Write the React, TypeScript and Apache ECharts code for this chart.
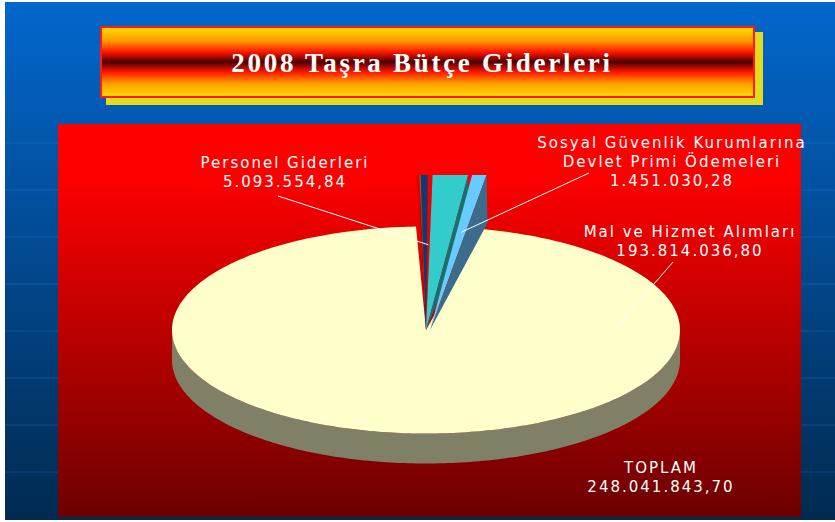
import React, { useEffect, useRef } from "react";
import * as echarts from "echarts";

// ---- data ----
const titleText = "2008 Taşra Bütçe Giderleri";
const categories = [
  "Dilim A",
  "Dilim B",
  "Dilim C",
  "Personel Giderleri",
  "Dilim D",
  "Sosyal Güvenlik Kurumlarına Devlet Primi Ödemeleri",
  "Mal ve Hizmet Alımları",
];
// visual share of each slice (percent of the pie)
const sliceShares = [0.22, 0.08, 0.44, 0.3, 2.24, 0.92, 95.8];
const labelNames = ["Personel Giderleri", "Sosyal Güvenlik Kurumlarına\nDevlet Primi Ödemeleri", "Mal ve Hizmet Alımları"];
const labelValues = ["5.093.554,84", "1.451.030,28", "193.814.036,80"];
const labelSliceIndex = [3, 5, 6];
const totalName = "TOPLAM";
const totalValue = "248.041.843,70";

// ---- styles ----
const sliceColors = ["#e40000", "#8a6a2a", "#0a3a78", "#ee0000", "#33cccc", "#66ccff", "#ffffcc"];
const wallColors = ["#900000", "#5a4520", "#062850", "#900000", "#1f6e6e", "#3d6b8c", "#808066"];
const sliceOffsets = [0, 0, 0, 0, 0, 4, 0];

export default function App() {
  const ref = useRef<HTMLDivElement>(null);

  useEffect(() => {
    document.body.style.margin = "0";
    const chart = echarts.init(ref.current as HTMLDivElement, null, { renderer: "svg" });

    const total = sliceShares.reduce((s, v) => s + v, 0);
    const cum: number[] = [];
    let acc = 0;
    sliceShares.forEach((v) => {
      cum.push(acc);
      acc += v;
    });

    const CX = 426, CY = 330, RX = 254, RY = 103.5, DEPTH = 30, RISE = 155, START = -2.26;
    const rad = (d: number) => (d * Math.PI) / 180;
    // point on the disc (elliptical top face)
    const pt = (deg: number, f: number, ox = 0, oy = 0) => [
      CX + ox + RX * f * Math.sin(rad(deg)),
      CY + oy - RY * f * Math.cos(rad(deg)),
    ];
    // point on a thin raised wedge (flat top)
    const wpt = (deg: number, f: number, ox = 0) => [CX + ox + RX * f * Math.sin(rad(deg)), CY - RISE * f];
    const arc = (a: number, b: number, ox = 0, oy = 0) => {
      const n = Math.max(2, Math.ceil(Math.abs(b - a) / 1));
      const out: number[][] = [];
      for (let k = 0; k <= n; k++) out.push(pt(a + ((b - a) * k) / n, 1, ox, oy));
      return out;
    };

    const labelAnchors = [[278, 196], [589, 173], [673, 262]];
    const pointerFrac = [0.55, 0.63, 0.75];
    const pointerAngle: (number | null)[] = [null, null, 88];

    const renderItem = (params: any, api: any) => {
      const i = params.dataIndex;
      const v = api.value(1);
      const a = START + (360 * cum[i]) / total;
      const b = a + (360 * v) / total;
      const children: any[] = [];
      const big = v / total > 0.5;
      const ox = sliceOffsets[i];
      if (big) {
        const wa = Math.max(a, 90), wb = Math.min(b, 270);
        if (wb > wa) {
          const top = arc(wa, wb);
          const bot = arc(wb, wa, 0, DEPTH);
          children.push({ type: "polygon", z2: 1, shape: { points: top.concat(bot) }, style: { fill: wallColors[i] } });
        }
        children.push({
          type: "polygon",
          z2: 3,
          shape: { points: [[CX, CY]].concat(arc(a, b)) },
          style: { fill: sliceColors[i] },
        });
      } else {
        const C = [CX + ox, CY];
        const P1 = wpt(a, 1, ox);
        const P2 = wpt(b, 1, ox);
        children.push({
          type: "polygon",
          z2: 11 + 2 * i,
          shape: { points: [C, P2, [P2[0] + 1, P2[1] + 48], C] },
          style: { fill: wallColors[i] },
        });
        children.push({
          type: "polygon",
          z2: 10 + 2 * i,
          shape: { points: [C, P1, P2] },
          style: { fill: sliceColors[i] },
        });
      }
      const li = labelSliceIndex.indexOf(i);
      if (li >= 0) {
        const ang = pointerAngle[li] !== null ? (pointerAngle[li] as number) : (a + b) / 2;
        const p = big ? pt(ang, pointerFrac[li], ox) : wpt(ang, pointerFrac[li], ox);
        children.push({
          type: "line",
          z2: 50,
          shape: { x1: labelAnchors[li][0], y1: labelAnchors[li][1], x2: p[0], y2: p[1] },
          style: { stroke: "#ffffff", lineWidth: 1 },
        });
      }
      return { type: "group", children };
    };

    const labelFont = { fontFamily: "DejaVu Sans", fontSize: 15, fill: "#ffffff" };
    const labelPos = [[285, 172], [672, 162], [690, 241]];
    const labelTexts = labelNames.map((n, k) => ({
      type: "text",
      z: 100,
      x: labelPos[k][0],
      y: labelPos[k][1],
      style: {
        ...labelFont,
        text: n + "\n" + labelValues[k],
        align: "center",
        verticalAlign: "middle",
        lineHeight: 19,
      },
    }));

    const gridLines = [143, 190, 237, 284, 331, 378, 425, 472].map((y) => ({
      type: "line",
      z: 1,
      shape: { x1: 5, y1: y, x2: 835, y2: y },
      style: { stroke: "rgba(90,160,255,0.22)", lineWidth: 1 },
    }));

    chart.setOption({
      animation: false,
      backgroundColor: "#ffffff",
      graphic: [
        {
          type: "rect",
          z: 0,
          shape: { x: 5, y: 2, width: 830, height: 518 },
          style: {
            fill: new echarts.graphic.LinearGradient(0, 0, 0, 1, [
              { offset: 0, color: "#0367cd" },
              { offset: 1, color: "#012a50" },
            ]),
          },
        },
        ...gridLines,
        {
          type: "rect",
          z: 2,
          shape: { x: 58, y: 124, width: 743, height: 393 },
          style: {
            fill: new echarts.graphic.LinearGradient(0, 0, 0, 1, [
              { offset: 0, color: "#ff0000" },
              { offset: 0.15, color: "#fb0000" },
              { offset: 1, color: "#6c0000" },
            ]),
          },
        },
        { type: "rect", z: 3, shape: { x: 106, y: 32, width: 657, height: 73 }, style: { fill: "#e2dc1c" } },
        {
          type: "rect",
          z: 4,
          shape: { x: 101, y: 27, width: 653, height: 70 },
          style: {
            fill: new echarts.graphic.LinearGradient(0, 0, 0, 1, [
              { offset: 0, color: "#ffdd00" },
              { offset: 0.2, color: "#ff9900" },
              { offset: 0.36, color: "#ff1400" },
              { offset: 0.5, color: "#4a0000" },
              { offset: 0.64, color: "#ff1400" },
              { offset: 0.8, color: "#ff9900" },
              { offset: 1, color: "#ffdd00" },
            ]),
            stroke: "#ff1a1a",
            lineWidth: 2,
          },
        },
        {
          type: "text",
          z: 5,
          x: 422,
          y: 63,
          style: {
            text: titleText,
            fontFamily: "Liberation Serif",
            fontWeight: "bold",
            fontSize: 27,
            fill: "#ffffff",
            align: "center",
            verticalAlign: "middle",
          },
        },
        ...labelTexts,
        {
          type: "text",
          z: 100,
          x: 661,
          y: 477,
          style: {
            ...labelFont,
            text: totalName + "\n" + totalValue,
            align: "center",
            verticalAlign: "middle",
            lineHeight: 19,
          },
        },
      ],
      series: [
        {
          type: "custom",
          name: "Taşra Bütçe Giderleri",
          coordinateSystem: "none",
          z: 10,
          renderItem,
          data: sliceShares.map((v, k) => ({ name: categories[k], value: [k, v] })),
        },
      ],
    });

    const applySpacing = () => {
      const root = ref.current;
      if (!root) return;
      root.querySelectorAll("text").forEach((t) => {
        if ((t.textContent || "").indexOf("2008") >= 0) (t as SVGTextElement).style.letterSpacing = "2.7px";
      });
    };
    applySpacing();
    chart.on("finished", applySpacing);

    return () => chart.dispose();
  }, []);

  return (
    <div id="chart-root" style={{ position: "absolute", left: 0, top: 0 }}>
      <style>{`#chart-root text { letter-spacing: 2px; }`}</style>
      <div ref={ref} style={{ width: 835, height: 522 }} />
    </div>
  );
}
